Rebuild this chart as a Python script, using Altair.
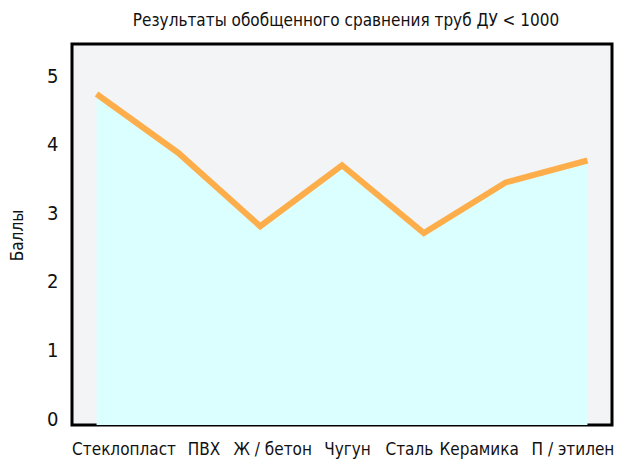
import altair as alt
import pandas as pd

materials = ["Стеклопласт", "ПВХ", "Ж / бетон", "Чугун", "Сталь", "Керамика", "П / этилен"]
scores = [4.83, 3.97, 2.90, 3.79, 2.80, 3.54, 3.86]
y_ticks = [0, 1, 2, 3, 4, 5]

df = pd.DataFrame({"material": materials, "score": scores})

FONT = "DejaVu Sans Condensed"

x_enc = alt.X(
    "material:N",
    sort=materials,
    scale=alt.Scale(type="point", padding=0.3),
    axis=alt.Axis(
        title=None,
        labelAngle=0,
        domain=False,
        ticks=False,
        grid=False,
        labelFontSize=17,
        labelFont=FONT,
        labelColor="#111111",
        labelPadding=16,
        labelOffset={
            "condition": {"test": "false", "value": 0},
            "expr": "[27,25,12,5,-15,-27,-15][round(datum.index*6)]",
        },
    ),
)

y_enc = alt.Y(
    "score:Q",
    scale=alt.Scale(domain=[0, 5.56], nice=False, zero=True),
    axis=alt.Axis(
        title="Баллы",
        values=y_ticks,
        format="d",
        domain=False,
        ticks=False,
        grid=False,
        labelFontSize=20,
        labelFont=FONT,
        labelColor="#111111",
        labelPadding=14,
        labelBaseline="alphabetic",
        labelFlush=False,
        titleFont=FONT,
        titleFontSize=17,
        titleFontWeight="normal",
        titleColor="#111111",
        titleAngle=270,
        titleBaseline="middle",
        titleAlign="center",
        titleX=-55,
        titleY=191,
    ),
)

area = alt.Chart(df).mark_area(color="#dbffff", opacity=1).encode(
    x=x_enc, y=y_enc
)
line = alt.Chart(df).mark_line(
    color="#fdae4b", strokeWidth=6, strokeJoin="miter", strokeCap="butt"
).encode(x=x_enc, y=y_enc)

chart = (
    alt.layer(area, line)
    .properties(
        width=540,
        height=381,
        autosize=alt.AutoSizeParams(type="none"),
        padding={"left": 64, "top": 36, "right": 3, "bottom": 35},
        title=alt.TitleParams(
            text="Результаты обобщенного сравнения труб ДУ < 1000",
            font=FONT,
            fontSize=17,
            fontWeight="normal",
            color="#111111",
            anchor="middle",
            baseline="alphabetic",
            offset=15,
            dx=4,
            dy=14,
        ),
    )
    .configure(background="white")
    .configure_view(stroke="black", strokeWidth=3, fill="#f3f4f6")
)

chart.save("out.html", embed_options={"renderer": "svg", "actions": False})
